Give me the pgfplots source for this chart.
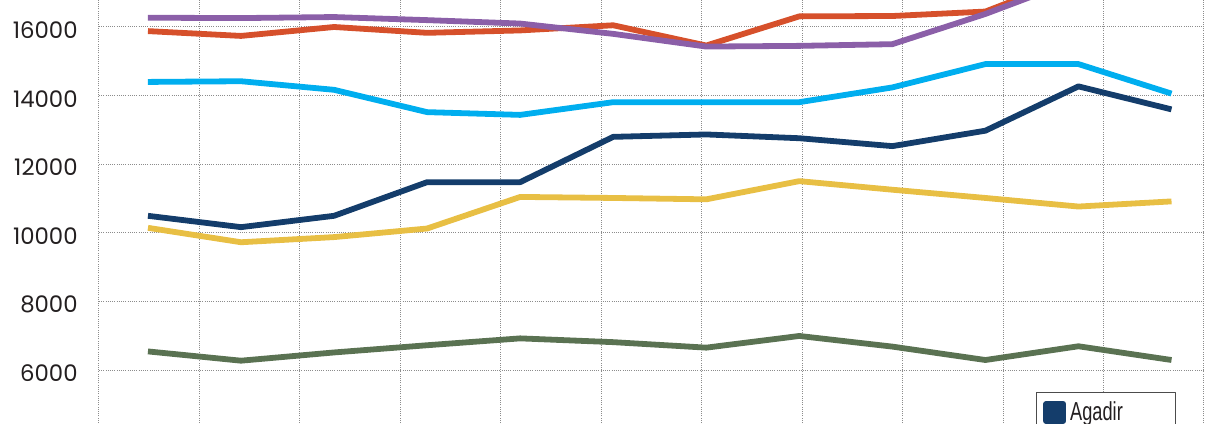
\documentclass[border=0pt]{standalone}
\usepackage{fontspec}
\setmainfont{Poppins}
\newfontfamily\narrow[FakeStretch=0.7]{Liberation Sans}
\usepackage{pgfplots}
\pgfplotsset{compat=1.18}
\definecolor{cnavy}{HTML}{143D6B}
\definecolor{cyellow}{HTML}{E8BF44}
\definecolor{cblue}{HTML}{00AEEF}
\definecolor{corange}{HTML}{D6502B}
\definecolor{cpurple}{HTML}{8B5FA8}
\definecolor{cgreen}{HTML}{5A7252}
\definecolor{ctext}{HTML}{231F20}
\begin{document}
\begin{tikzpicture}
\path[use as bounding box, clip] (-49.5pt,0pt) rectangle (555.5pt,211.5pt);
\begin{axis}[
  at={(0pt,0pt)}, anchor=south west,
  scale only axis, width=553pt, height=211.5pt,
  xmin=-0.5263, xmax=11.36, ymin=4465, ymax=16786.5,
  xtick={-0.5263,0.5532,1.6327,2.7122,3.7917,4.8712,5.9507,7.0302,8.1097,9.1892,10.2687,11.3482},
  xticklabels={},
  ytick={6000,8000,10000,12000,14000,16000},
  scaled y ticks=false,
  grid=major,
  major grid style={black!45, line width=0.5pt, dash pattern=on 0.5pt off 0.6pt},
  axis line style={draw=none},
  major tick length=0pt,
  yticklabel style={anchor=east, inner sep=0pt, xshift=-10.5pt, yshift=-1.5pt, text=ctext, font=\fontsize{11.4}{13}\selectfont},
  /pgf/number format/assume math mode=true,
  /pgf/number format/1000 sep={},
  line join=round,
  legend style={at={(axis cs:9.543,5368)}, anchor=north west, draw=black!70, line width=0.5pt,
    inner xsep=3.5pt, inner ysep=2.5pt, font=\narrow\fontsize{13}{15}\selectfont, text=ctext},
  legend cell align=left,
]
\addplot[cgreen, line width=2.9pt, forget plot] coordinates {
(0,6550) (1,6280) (2,6520) (3,6730) (4,6930) (5,6820) (6,6660) (7,7000) (8,6690) (9,6300) (10,6700) (11,6300)};
\addplot[cyellow, line width=2.9pt, forget plot] coordinates {
(0,10150) (1,9730) (2,9880) (3,10130) (4,11050) (5,11020) (6,10980) (7,11510) (8,11260) (9,11020) (10,10770) (11,10920)};
\addplot[cnavy, line width=2.9pt, legend image code/.code={\fill[cnavy] (0pt,-4.25pt) rectangle (8.5pt,4.25pt);}] coordinates {
(0,10500) (1,10170) (2,10500) (3,11480) (4,11480) (5,12800) (6,12870) (7,12760) (8,12530) (9,12980) (10,14270) (11,13600)};
\addlegendentry{\makebox[47pt][l]{Agadir}}
\addplot[cblue, line width=2.9pt, forget plot] coordinates {
(0,14400) (1,14420) (2,14170) (3,13520) (4,13440) (5,13810) (6,13810) (7,13810) (8,14240) (9,14920) (10,14920) (11,14060)};
\addplot[corange, line width=2.9pt, forget plot] coordinates {
(0,15880) (1,15740) (2,16000) (3,15830) (4,15900) (5,16050) (6,15460) (7,16310) (8,16320) (9,16450) (10,17500) (11,17300)};
\addplot[cpurple, line width=2.9pt, forget plot] coordinates {
(0,16270) (1,16260) (2,16290) (3,16200) (4,16100) (5,15800) (6,15430) (7,15450) (8,15500) (9,16380) (10,17400) (11,17200)};
\addlegendimage{empty legend}\addlegendentry{\strut}
\addlegendimage{empty legend}\addlegendentry{\strut}
\end{axis}
\end{tikzpicture}
\end{document}
